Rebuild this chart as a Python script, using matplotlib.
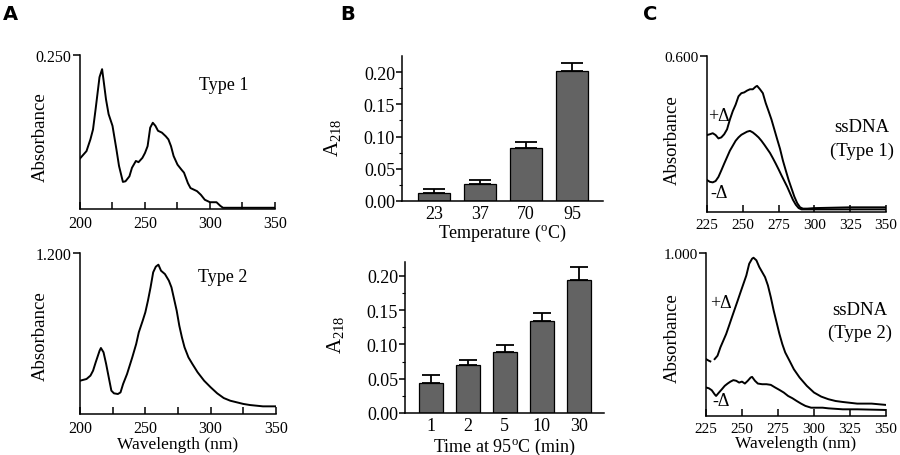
import matplotlib
matplotlib.use('Agg')
import matplotlib.pyplot as plt
import numpy as np

plt.rcParams['font.family'] = ['Liberation Serif', 'DejaVu Serif']
plt.rcParams['mathtext.fontset'] = 'custom'
plt.rcParams['mathtext.rm'] = 'Liberation Serif'
plt.rcParams['mathtext.it'] = 'Liberation Serif:italic'
plt.rcParams['axes.linewidth'] = 1.1

# ---- panel A: absorbance spectra of the two types
wl_a1 = [200, 205, 208, 210, 212, 215, 217, 218, 220, 222, 225, 228, 230, 233, 235,
         238, 240, 243, 245, 248, 250, 252, 254, 256, 258, 260, 263, 266, 268, 270,
         272, 275, 278, 280, 283, 285, 290, 293, 296, 300, 305, 308, 310, 350]
abs_a1 = [0.082, 0.094, 0.113, 0.129, 0.162, 0.214, 0.227, 0.211, 0.178, 0.154, 0.135,
          0.097, 0.070, 0.044, 0.045, 0.053, 0.067, 0.078, 0.076, 0.083, 0.091, 0.102,
          0.132, 0.140, 0.135, 0.127, 0.124, 0.118, 0.113, 0.102, 0.086, 0.072, 0.064,
          0.059, 0.042, 0.034, 0.029, 0.023, 0.015, 0.011, 0.011, 0.005, 0.002, 0.002]

wl_a2 = [200, 205, 208, 210, 212, 215, 216, 218, 220, 222, 224, 226, 229, 231, 233,
         236, 240, 243, 245, 248, 250, 252, 254, 256, 258, 260, 262, 265, 268, 270,
         272, 274, 276, 278, 280, 283, 286, 290, 295, 300, 305, 310, 315, 320, 325,
         330, 340, 350]
abs_a2 = [0.248, 0.261, 0.286, 0.323, 0.385, 0.472, 0.492, 0.460, 0.373, 0.273, 0.174,
          0.154, 0.149, 0.161, 0.224, 0.298, 0.422, 0.522, 0.609, 0.696, 0.758, 0.845,
          0.944, 1.056, 1.098, 1.113, 1.068, 1.043, 0.994, 0.944, 0.857, 0.770, 0.658,
          0.571, 0.497, 0.422, 0.373, 0.311, 0.248, 0.199, 0.154, 0.119, 0.099, 0.087,
          0.075, 0.067, 0.057, 0.057]

# ---- panel B: A218 vs temperature and vs time at 95 C
temp_labels = ['23', '37', '70', '95']
temp_a218 = [0.013, 0.026, 0.083, 0.201]
temp_err = [0.005, 0.007, 0.009, 0.013]

time_labels = ['1', '2', '5', '10', '30']
time_a218 = [0.043, 0.070, 0.089, 0.134, 0.194]
time_err = [0.013, 0.007, 0.010, 0.012, 0.018]

# ---- panel C: ssDNA spectra with (+) and without (-) heating
wl_c1p = [225, 227, 229, 231, 233, 235, 237, 239, 241, 243, 245, 247, 249, 251, 253,
          255, 257, 259, 260, 262, 264, 266, 268, 270, 272, 274, 276, 278, 280, 282,
          284, 286, 288, 290, 292, 295, 300, 325, 350]
abs_c1p = [0.296, 0.299, 0.303, 0.296, 0.283, 0.287, 0.299, 0.318, 0.356, 0.388, 0.413,
           0.445, 0.457, 0.460, 0.467, 0.472, 0.472, 0.482, 0.485, 0.472, 0.457, 0.419,
           0.388, 0.356, 0.318, 0.280, 0.243, 0.198, 0.160, 0.123, 0.091, 0.059, 0.034,
           0.018, 0.013, 0.013, 0.015, 0.018, 0.018]
wl_c1m = [225, 227, 229, 231, 233, 235, 237, 239, 241, 243, 245, 247, 249, 251, 253,
          255, 257, 259, 261, 263, 265, 267, 269, 271, 273, 275, 277, 279, 281, 283,
          285, 287, 289, 291, 295, 350]
abs_c1m = [0.123, 0.116, 0.114, 0.119, 0.135, 0.160, 0.186, 0.211, 0.236, 0.255, 0.274,
           0.287, 0.297, 0.303, 0.309, 0.312, 0.306, 0.297, 0.287, 0.274, 0.259, 0.243,
           0.227, 0.207, 0.186, 0.164, 0.141, 0.119, 0.097, 0.072, 0.047, 0.028, 0.015,
           0.010, 0.010, 0.010]

wl_c2p = [225, 227, 228, np.nan, 231, 233, 235, 237, 239, 241, 243, 245, 247, 249, 251,
          253, 255, 257, 258, 260, 262, 264, 266, 268, 270, 272, 274, 276, 278, 280,
          283, 286, 290, 295, 300, 305, 310, 315, 320, 330, 340, 350]
abs_c2p = [0.349, 0.339, 0.335, np.nan, 0.349, 0.370, 0.421, 0.462, 0.503, 0.554, 0.606,
           0.657, 0.708, 0.760, 0.811, 0.862, 0.934, 0.965, 0.971, 0.955, 0.914, 0.883,
           0.852, 0.801, 0.729, 0.647, 0.575, 0.503, 0.441, 0.390, 0.339, 0.287, 0.236,
           0.185, 0.144, 0.119, 0.103, 0.092, 0.086, 0.076, 0.076, 0.068]
wl_c2m = [225, 227, 229, 231, 232, 234, 236, 238, 240, 242, 244, 246, 248, 250, 252,
          254, 256, 257, 259, 261, 264, 267, 270, 273, 276, 279, 282, 285, 288, 291,
          294, 298, 302, 306, 310, 320, 330, 340, 350]
abs_c2m = [0.175, 0.170, 0.158, 0.133, 0.123, 0.144, 0.164, 0.185, 0.199, 0.211, 0.220,
           0.216, 0.205, 0.211, 0.199, 0.216, 0.236, 0.240, 0.216, 0.199, 0.195, 0.195,
           0.191, 0.175, 0.160, 0.144, 0.123, 0.109, 0.092, 0.076, 0.062, 0.051, 0.051,
           0.051, 0.047, 0.041, 0.041, 0.039, 0.037]

W, H = 900, 456
fig = plt.figure(figsize=(W / 100, H / 100), dpi=100)


def box(l, t, r, b):
    # pixel box -> figure fraction
    return [l / W, 1 - b / H, (r - l) / W, (b - t) / H]


def ylabel_at(ax, text, px, py, size):
    inv = ax.transAxes.inverted()
    x, y = inv.transform(fig.transFigure.transform((px / W, 1 - py / H)))
    ax.set_ylabel(text, fontsize=size)
    ax.yaxis.set_label_coords(x, y)


def spectrum_axes(rect, xmin, xticks, xlabels, ytop, ylab, tsize=11.5):
    ax = fig.add_axes(box(*rect))
    ax.set_xlim(xmin, 350)
    ax.set_ylim(0, ytop)
    for s in ['top', 'right']:
        ax.spines[s].set_visible(False)
    ax.set_xticks(xticks)
    ax.set_xticklabels(xlabels, fontsize=tsize)
    ax.tick_params(axis='x', direction='in', length=5, width=1.1, pad=4)
    ax.set_yticks([ytop])
    ax.set_yticklabels([ylab], fontsize=tsize)
    ax.tick_params(axis='y', direction='out', length=5, width=1.1, pad=1)
    return ax


# A top
axA1 = spectrum_axes((80, 56, 275, 210), 200, [200, 225, 250, 275, 300, 325, 350],
                     ['200', '', '250', '', '300', '', '350'], 0.25, '0.250')
axA1.plot(wl_a1, abs_a1, color='black', lw=1.4)
fig.text(224 / W, 1 - 85 / H, 'Type 1', fontsize=13, ha='center', va='center')
ylabel_at(axA1, 'Absorbance', 49, 137, 13.5)

# A bottom
axA2 = spectrum_axes((80, 254, 276, 415), 200, [200, 225, 250, 275, 300, 325, 350],
                     ['200', '', '250', '', '300', '', '350'], 1.2, '1.200')
axA2.plot(wl_a2, abs_a2, color='black', lw=1.4)
fig.text(223 / W, 1 - 278 / H, 'Type 2', fontsize=13, ha='center', va='center')
ylabel_at(axA2, 'Absorbance', 49, 336, 13.5)
axA2.set_xlabel('Wavelength (nm)', fontsize=12.5, labelpad=0)


def bar_axes(rect, labels, vals, errs, xlim, ytop, cap, width):
    ax = fig.add_axes(box(*rect))
    x = np.arange(len(vals))
    ax.bar(x, vals, width=width, color='#636363', edgecolor='black', linewidth=0.9)
    ax.errorbar(x, vals, yerr=[np.zeros(len(errs)), errs], fmt='none',
                ecolor='black', elinewidth=1.3, capsize=cap, capthick=1.3)
    ax.set_xlim(*xlim)
    ax.set_ylim(0, ytop)
    for s in ['top', 'right']:
        ax.spines[s].set_visible(False)
    ax.set_xticks(x)
    ax.set_xticklabels(labels, fontsize=13)
    ax.tick_params(axis='x', length=0, pad=3)
    ax.set_yticks([0, 0.05, 0.10, 0.15, 0.20])
    ax.set_yticklabels(['0.00', '0.05', '0.10', '0.15', '0.20'], fontsize=13)
    ax.set_yticks(np.arange(0.025, ytop, 0.05), minor=True)
    ax.tick_params(axis='y', which='major', length=4, width=1.1, pad=1)
    ax.tick_params(axis='y', which='minor', length=2.5, width=0.8)
    return ax


axB1 = bar_axes((402, 57, 603, 202), temp_labels, temp_a218, temp_err,
                (-0.696, 3.674), 0.225, 8, 0.68)
axB1.set_xlabel('Temperature ($^{\\rm o}$C)', fontsize=13, labelpad=0)
ylabel_at(axB1, 'A$_{218}$', 343, 138, 15)

axB2 = bar_axes((405, 263, 604, 414), time_labels, time_a218, time_err,
                (-0.70, 4.68), 0.22, 6.5, 0.66)
axB2.set_xlabel('Time at 95$^{\\rm o}$C (min)', fontsize=13, labelpad=1)
ylabel_at(axB2, 'A$_{218}$', 346, 335, 15)

# C top
c_ticks = [225, 250, 275, 300, 325, 350]
axC1 = spectrum_axes((707, 57, 886, 213), 225, c_ticks, [str(t) for t in c_ticks],
                     0.6, '0.600', tsize=11)
axC1.plot(wl_c1p, abs_c1p, color='black', lw=1.4)
axC1.plot(wl_c1m, abs_c1m, color='black', lw=1.4)
fig.text(719 / W, 1 - 117 / H, '+Δ', fontsize=13, ha='center', va='center')
fig.text(719 / W, 1 - 193 / H, '-Δ', fontsize=13, ha='center', va='center')
fig.text(862 / W, 1 - 128 / H, 'ssDNA', fontsize=13.5, ha='center', va='center')
fig.text(862 / W, 1 - 151 / H, '(Type 1)', fontsize=13.5, ha='center', va='center')
ylabel_at(axC1, 'Absorbance', 681, 140, 13.5)

# C bottom
axC2 = spectrum_axes((706, 254, 886, 417), 225, c_ticks, [str(t) for t in c_ticks],
                     1.0, '1.000', tsize=11)
axC2.plot(wl_c2p, abs_c2p, color='black', lw=1.4)
axC2.plot(wl_c2m, abs_c2m, color='black', lw=1.4)
fig.text(721 / W, 1 - 303 / H, '+Δ', fontsize=13, ha='center', va='center')
fig.text(721 / W, 1 - 402 / H, '-Δ', fontsize=13, ha='center', va='center')
fig.text(860 / W, 1 - 311 / H, 'ssDNA', fontsize=13.5, ha='center', va='center')
fig.text(860 / W, 1 - 333 / H, '(Type 2)', fontsize=13.5, ha='center', va='center')
ylabel_at(axC2, 'Absorbance', 681, 338, 13.5)
axC2.set_xlabel('Wavelength (nm)', fontsize=12.5, labelpad=0)

# panel letters
for letter, px in [('A', 10), ('B', 348), ('C', 650)]:
    fig.text(px / W, 1 - 14 / H, letter, fontsize=14, fontweight='bold',
             family='Liberation Sans Narrow', ha='center', va='center')

fig.savefig('out.png', dpi=100)
